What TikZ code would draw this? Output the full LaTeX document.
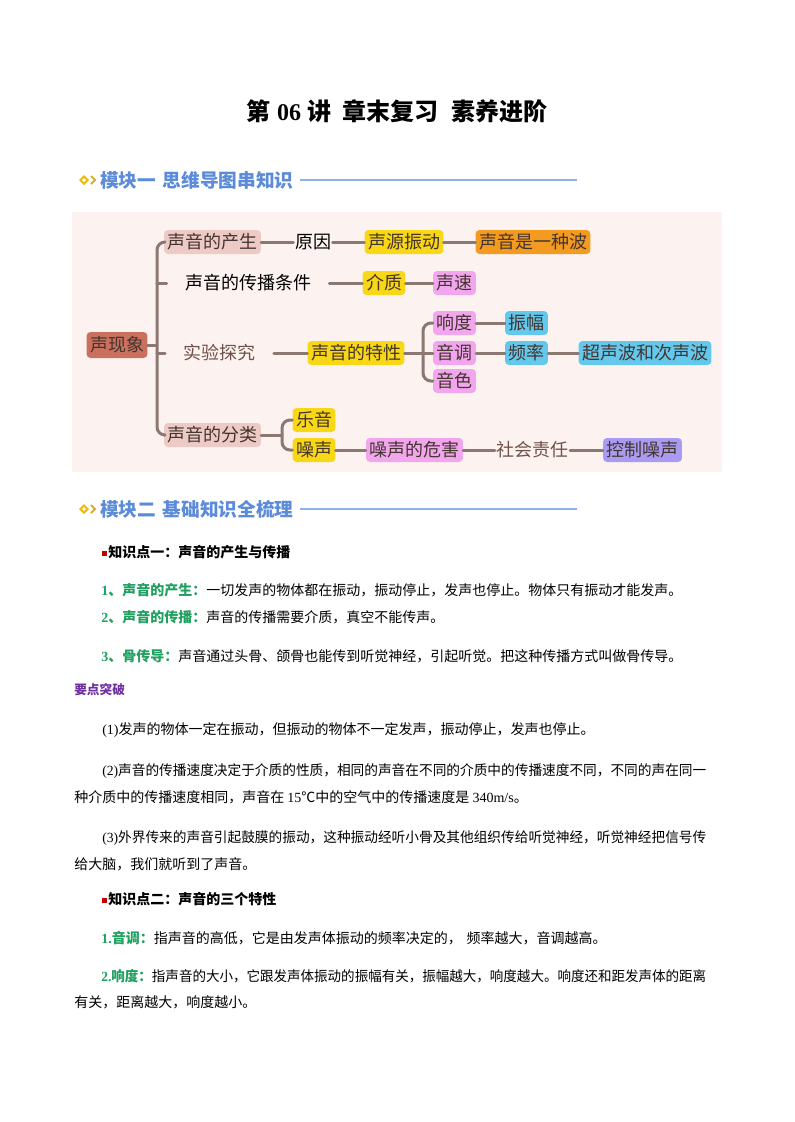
\documentclass[tikz,border=0pt]{standalone}
\usepackage{fontspec}
\usepackage{graphicx}
\setmainfont{Liberation Serif}
\newfontfamily\cjk{Noto Sans CJK SC}
\newcommand\lat[1]{{\rmfamily #1}}
\definecolor{conncol}{HTML}{8B7873}
\definecolor{mmbg}{HTML}{FCF3F0}
\definecolor{rootfill}{HTML}{C9705F}
\definecolor{lpink}{HTML}{EDCAC6}
\definecolor{yel}{HTML}{F8D716}
\definecolor{org}{HTML}{F29B20}
\definecolor{pnk}{HTML}{F2A6EE}
\definecolor{blu}{HTML}{63C8EC}
\definecolor{lav}{HTML}{A99BF2}
\definecolor{ntext}{HTML}{45352F}
\definecolor{brown}{HTML}{6F5149}
\definecolor{hdrblue}{HTML}{5B8BD9}
\definecolor{hline}{HTML}{8FB1E3}
\definecolor{gold}{HTML}{F2B705}
\definecolor{greenlab}{HTML}{1FA060}
\definecolor{redsq}{HTML}{C00000}
\definecolor{purp}{HTML}{7030A0}
\begin{document}
\begin{tikzpicture}[x=0.75pt,y=-0.75pt,
  mm/.style={font=\cjk\fontsize{13.5}{16}\selectfont, text=ntext, rounded corners=3pt,
    inner xsep=2.6pt, inner ysep=0pt, minimum height=18pt},
  mmplain/.style={mm, inner xsep=1pt},
  conn/.style={draw=conncol, line width=2.25pt, line cap=round, line join=round},
  hdr/.style={font=\cjk\bfseries\fontsize{14}{16}\selectfont, text=hdrblue, anchor=west, inner sep=0pt},
  hrule/.style={draw=hline, line width=0.9pt},
  body/.style={font=\cjk\fontsize{10.5}{12}\selectfont, anchor=west, inner sep=0pt},
  lab/.style={font=\cjk\bfseries\fontsize{10.5}{12}\selectfont, anchor=west, inner sep=0pt}
]
\useasboundingbox (0,0) rectangle (794,1122);
\fill[white] (0,0) rectangle (794,1122);

% title
\node[font=\cjk\bfseries\fontsize{18}{20}\selectfont] (title) at (397,111)
  {第\hspace{5pt}\lat{\bfseries 06}\hspace{5pt}讲\hspace{8.5pt}章末复习\hspace{9.5pt}素养进阶};

% header 1
\fill[gold] (79,180) -- (84,175) -- (89,180) -- (84,185) -- cycle;
\fill[white] (82,180) -- (84,178) -- (86,180) -- (84,182) -- cycle;
\draw[gold!80!hdrblue, line width=1.4pt] (91,176) -- (95,180) -- (91,184);
\node[hdr] (h1) at (100,180) {模块一\hspace{5pt}思维导图串知识};
\coordinate (h1end) at (577,180);
\draw[hrule] ([xshift=4.5pt]h1.east) -- (h1end);

% mind map background
\fill[mmbg] (72,212) rectangle (722,472);

% nodes
\node[mm, fill=rootfill, minimum height=19.5pt] (root) at (117,345) {声现象};
\node[mm, fill=lpink] (chansheng) at (212.5,242) {声音的产生};
\node[mmplain, text=black] (yuanyin) at (313,242) {原因};
\node[mm, fill=yel] (shengyuan) at (404,242) {声源振动};
\node[mm, fill=org] (bo) at (533,242) {声音是一种波};
\node[mm, text=black, inner xsep=13.5pt] (chuanbo) at (248,283) {声音的传播条件};
\node[mm, fill=yel] (jiezhi) at (384,283) {介质};
\node[mm, fill=pnk] (shengsu) at (454.5,283) {声速};
\node[mm, text=brown, inner xsep=13.5pt] (shiyan) at (219.5,353) {实验探究};
\node[mm, fill=yel] (texing) at (356,353) {声音的特性};
\node[mm, fill=pnk] (xiangdu) at (454.5,323) {响度};
\node[mm, fill=pnk] (yindiao) at (454.5,353) {音调};
\node[mm, fill=pnk] (yinse) at (454.5,381) {音色};
\node[mm, fill=blu] (zhenfu) at (526.5,323) {振幅};
\node[mm, fill=blu] (pinlv) at (526.5,353) {频率};
\node[mm, fill=blu] (chaosheng) at (645,353) {超声波和次声波};
\node[mm, fill=lpink] (fenlei) at (212.5,435) {声音的分类};
\node[mm, fill=yel] (yueyin) at (314,420) {乐音};
\node[mm, fill=yel] (zaosheng) at (314,450) {噪声};
\node[mm, fill=pnk] (weihai) at (414.5,450) {噪声的危害};
\node[mmplain, text=brown] (zeren) at (532.5,450) {社会责任};
\node[mm, fill=lav] (kongzhi) at (642.5,450) {控制噪声};

% connectors
\coordinate (t1) at (157,345);
\coordinate (b1) at (423,353);
\coordinate (b2) at (282,435);
\draw[conn] (root.east) -- (t1);
\draw[conn, rounded corners=6pt] (chansheng.west) -| (t1) |- (fenlei.west);
\draw[conn] (157,283) -- (chuanbo.west);
\draw[conn] (157,353) -- (shiyan.west);
\draw[conn] (chansheng.east) -- (yuanyin.west);
\draw[conn] (yuanyin.east) -- (shengyuan.west);
\draw[conn] (shengyuan.east) -- (bo.west);
\draw[conn] (chuanbo.east) -- (jiezhi.west);
\draw[conn] (jiezhi.east) -- (shengsu.west);
\draw[conn] (shiyan.east) -- (texing.west);
\draw[conn] (texing.east) -- (b1);
\draw[conn, rounded corners=6pt] (xiangdu.west) -| (b1) |- (yinse.west);
\draw[conn] (b1) -- (yindiao.west);
\draw[conn] (xiangdu.east) -- (zhenfu.west);
\draw[conn] (yindiao.east) -- (pinlv.west);
\draw[conn] (pinlv.east) -- (chaosheng.west);
\draw[conn] (fenlei.east) -- (b2);
\draw[conn, rounded corners=6pt] (yueyin.west) -| (b2) |- (zaosheng.west);
\draw[conn] (zaosheng.east) -- (weihai.west);
\draw[conn] (weihai.east) -- (zeren.west);
\draw[conn] (zeren.east) -- (kongzhi.west);

% header 2
\fill[gold] (79,509) -- (84,504) -- (89,509) -- (84,514) -- cycle;
\fill[white] (82,509) -- (84,507) -- (86,509) -- (84,511) -- cycle;
\draw[gold!80!hdrblue, line width=1.4pt] (91,505) -- (95,509) -- (91,513);
\node[hdr] (h2) at (100,509) {模块二\hspace{5pt}基础知识全梳理};
\coordinate (h2end) at (577,509);
\draw[hrule] ([xshift=4.5pt]h2.east) -- (h2end);

% knowledge point 1
\fill[redsq] (102,550.5) rectangle (107,555.5);
\node[lab] (k1) at (108,552) {知识点一：声音的产生与传播};

\node[body] (l1) at (101,590) {{\bfseries\color{greenlab}\lat{1}、声音的产生：}一切发声的物体都在振动，振动停止，发声也停止。物体只有振动才能发声。};
\node[body] (l2) at (101,617) {{\bfseries\color{greenlab}\lat{2}、声音的传播：}声音的传播需要介质，真空不能传声。};
\node[body] (l3) at (101,656) {{\bfseries\color{greenlab}\lat{3}、骨传导：}声音通过头骨、颌骨也能传到听觉神经，引起听觉。把这种传播方式叫做骨传导。};

\node[body, font=\cjk\bfseries\fontsize{9.5}{11}\selectfont, text=purp] (yd) at (74,690) {要点突破};

\node[body] (p1) at (102,730) {\lat{(1)}发声的物体一定在振动，但振动的物体不一定发声，振动停止，发声也停止。};
\node[body] (p2a) at (102,771) {\resizebox{453pt}{\height}{\lat{(2)}声音的传播速度决定于介质的性质，相同的声音在不同的介质中的传播速度不同，不同的声在同一}};
\node[body] (p2b) at (74,797) {种介质中的传播速度相同，声音在 \lat{15}℃中的空气中的传播速度是 \lat{340m/s}。};
\node[body] (p3a) at (102,838) {\resizebox{453pt}{\height}{\lat{(3)}外界传来的声音引起鼓膜的振动，这种振动经听小骨及其他组织传给听觉神经，听觉神经把信号传}};
\node[body] (p3b) at (74,864) {给大脑，我们就听到了声音。};

% knowledge point 2
\fill[redsq] (102,897.5) rectangle (107,902.5);
\node[lab] (k2) at (108,899) {知识点二：声音的三个特性};

\node[body] (m1) at (101,938) {{\bfseries\color{greenlab}\lat{1.}音调：}指声音的高低，它是由发声体振动的频率决定的，\hspace{0.35em}频率越大，音调越高。};
\node[body] (m2a) at (101,976) {\resizebox{453.75pt}{\height}{{\bfseries\color{greenlab}\lat{2.}响度：}指声音的大小，它跟发声体振动的振幅有关，振幅越大，响度越大。响度还和距发声体的距离}};
\node[body] (m2b) at (74,1002) {有关，距离越大，响度越小。};
\end{tikzpicture}
\end{document}
